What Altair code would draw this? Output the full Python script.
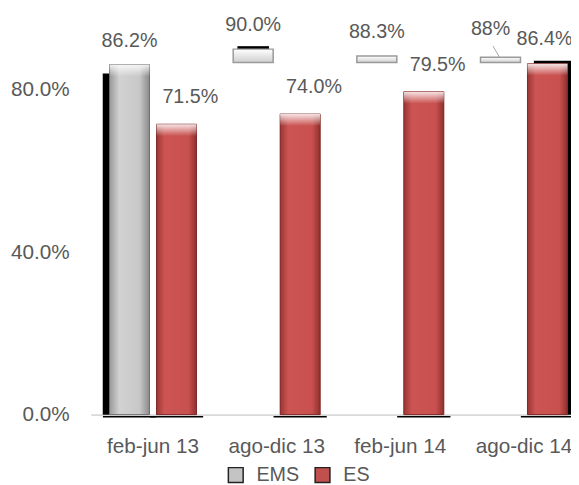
import altair as alt
import pandas as pd

categories = ["feb-jun 13", "ago-dic 13", "feb-jun 14", "ago-dic 14"]
series = ["EMS", "ES"]
ems_values = [0.862, 0.900, 0.883, 0.880]
es_values = [0.715, 0.740, 0.795, 0.864]
ems_labels = ["86.2%", "90.0%", "88.3%", "88%"]
es_labels = ["71.5%", "74.0%", "79.5%", "86.4%"]

rows = []
for c, v, l in zip(categories, ems_values, ems_labels):
    rows.append({"cat": c, "series": "EMS", "value": v, "label": l})
for c, v, l in zip(categories, es_values, es_labels):
    rows.append({"cat": c, "series": "ES", "value": v, "label": l})
df = pd.DataFrame(rows)

TEXT = "#595959"
FONT = "Liberation Sans"
CLIP_LEVEL = 0.867  # level below which the hollow EMS bars vanish

gray_grad = alt.Gradient(
    gradient="linear", x1=0, x2=1, y1=0, y2=0,
    stops=[alt.GradientStop(color="#9a9a9a", offset=0),
           alt.GradientStop(color="#d2d2d2", offset=0.25),
           alt.GradientStop(color="#c8c8c8", offset=0.75),
           alt.GradientStop(color="#8a8a8a", offset=1)])
red_grad = alt.Gradient(
    gradient="linear", x1=0, x2=1, y1=0, y2=0,
    stops=[alt.GradientStop(color="#9a3634", offset=0),
           alt.GradientStop(color="#cc5452", offset=0.2),
           alt.GradientStop(color="#c8504e", offset=0.8),
           alt.GradientStop(color="#8e302e", offset=1)])
cap_grad = alt.Gradient(
    gradient="linear", x1=0, x2=0, y1=0, y2=1,
    stops=[alt.GradientStop(color="rgba(255,255,255,0.85)", offset=0),
           alt.GradientStop(color="rgba(255,255,255,0)", offset=1)])
ghost_cap_grad = alt.Gradient(
    gradient="linear", x1=0, x2=0, y1=0, y2=1,
    stops=[alt.GradientStop(color="#ffffff", offset=0),
           alt.GradientStop(color="#e6e6e6", offset=0.5),
           alt.GradientStop(color="#cfcfcf", offset=1)])

x_enc = alt.X(
    "cat:N", sort=categories, title=None,
    scale=alt.Scale(paddingInner=0.2967, paddingOuter=0.086, align=0.88),
    axis=alt.Axis(
        labelAngle=0, labelFont=FONT, labelFontSize=21, labelColor=TEXT,
        labelPadding=21, ticks=False, domainColor="#d9d9d9", domainWidth=2,
    ),
)
xo_enc = alt.XOffset("series:N", sort=series, scale=alt.Scale(paddingInner=0.149))
y_scale = alt.Scale(domain=[0, 0.993], nice=False)
y_enc = alt.Y(
    "value:Q", scale=y_scale, title=None,
    axis=alt.Axis(values=[0, 0.4, 0.8], format=".1%", grid=False, domain=False,
                  ticks=False, labelFont=FONT, labelFontSize=21,
                  labelColor=TEXT, labelPadding=22),
)

base = alt.Chart(df).encode(x=x_enc, xOffset=xo_enc)
plain = alt.Chart(df).encode(x=x_enc)
visible = "!(datum.series == 'EMS' && datum.cat != 'feb-jun 13')"
hollow = "datum.series == 'EMS' && datum.cat != 'feb-jun 13'"

shadow_left = plain.transform_filter(
    "datum.series == 'EMS' && datum.cat == 'feb-jun 13'"
).mark_bar(color="black", width=40, xOffset=-31, yOffset=9, y2Offset=0).encode(
    y=y_enc, y2=alt.datum(0))
shadow_right = plain.transform_filter(
    "datum.series == 'ES' && datum.cat == 'ago-dic 14'"
).mark_bar(color="black", width=40, xOffset=30, yOffset=-3, y2Offset=0).encode(
    y=y_enc, y2=alt.datum(0))
shadow_top = base.transform_filter(
    "datum.series == 'EMS' && datum.cat == 'ago-dic 13'"
).mark_bar(color="black", width=32, yOffset=-3, y2Offset=0).encode(
    y=y_enc, y2=alt.Y2("value:Q"))
shadow_base = base.transform_filter(visible).mark_bar(
    color="black", width=54, yOffset=1.5, y2Offset=3).encode(
    y=alt.datum(0, scale=y_scale), y2=alt.datum(0))

legend_bars = base.mark_bar(strokeWidth=1).encode(
    y=y_enc,
    color=alt.Color(
        "series:N", sort=series,
        scale=alt.Scale(domain=series, range=["#c4c4c4", "#c0504d"]),
        legend=alt.Legend(
            title=None, orient="none", direction="horizontal",
            legendX=137, legendY=460, symbolType="square", symbolSize=225,
            symbolStrokeColor="#222222", symbolStrokeWidth=1.5,
            labelFont=FONT, labelFontSize=20, labelColor=TEXT,
            labelOffset=11, columnPadding=12,
        ),
    ),
    opacity=alt.condition(hollow, alt.value(0), alt.value(1)),
)

ems_bar = base.transform_filter(
    "datum.series == 'EMS' && datum.cat == 'feb-jun 13'"
).mark_bar(fill=gray_grad, stroke="#6e6e6e", strokeWidth=1).encode(y=y_enc)
es_bar = base.transform_filter("datum.series == 'ES'").mark_bar(
    fill=red_grad, stroke="#7e2a28", strokeWidth=1).encode(y=y_enc)

caps = base.transform_filter(visible).mark_bar(
    fill=cap_grad, y2Offset=12).encode(y=y_enc, y2=alt.Y2("value:Q"))

ghost_caps = base.transform_filter(hollow).mark_bar(
    fill=ghost_cap_grad, stroke="#9a9a9a", strokeWidth=1.5).encode(
    y=y_enc, y2=alt.datum(CLIP_LEVEL))

leader = plain.transform_filter(
    "datum.series == 'EMS' && datum.cat == 'ago-dic 14'"
).mark_rule(color="#a6a6a6", strokeWidth=1, xOffset=-31.5, x2Offset=-24.5,
            yOffset=-11.5, y2Offset=0.5).encode(
    x2=alt.X2("cat:N"), y=y_enc, y2=alt.Y2("value:Q"))


def labels(filter_expr, dx, dy):
    return base.transform_filter(filter_expr).mark_text(
        font=FONT, fontSize=20, color=TEXT, dx=dx, dy=dy, baseline="middle"
    ).encode(y=y_enc, text="label:N")


ems_text = labels("datum.series == 'EMS' && datum.cat != 'ago-dic 14'", 0, -24)
ems_text_last = labels("datum.series == 'EMS' && datum.cat == 'ago-dic 14'", -10, -29)
es_text = labels("datum.series == 'ES' && datum.cat != 'ago-dic 14'", 14, -27.5)
es_text_last = labels("datum.series == 'ES' && datum.cat == 'ago-dic 14'", -3, -25)

chart = alt.layer(
    shadow_left, shadow_right, shadow_top, shadow_base, legend_bars, ems_bar,
    es_bar, caps, ghost_caps, leader, ems_text, ems_text_last, es_text,
    es_text_last,
).properties(
    width=486, height=409,
    autosize=alt.AutoSizeParams(type="none"),
    padding={"left": 84, "top": 0, "right": 1, "bottom": 70},
).configure_view(stroke=None).configure_legend(padding=0)

chart.save("out.html", embed_options={"renderer": "svg", "actions": False})
